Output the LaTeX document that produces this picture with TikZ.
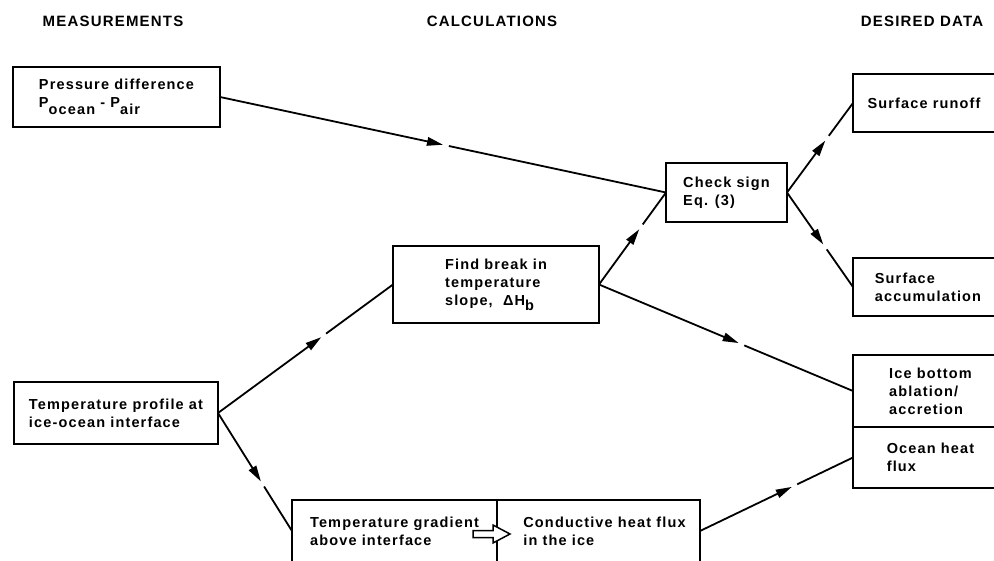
\documentclass[tikz,border=0pt]{standalone}
\usepackage{fontspec}
\setmainfont{Liberation Sans}
\newfontfamily\boxfont[LetterSpace=8]{Liberation Sans}
\newfontfamily\headfont[LetterSpace=8]{Liberation Sans}
\usetikzlibrary{arrows.meta,calc,positioning}

\tikzset{every picture/.style={line width=1.8pt}}
\tikzset{
  box/.style={draw, line width=2.2pt, rectangle, anchor=north west, align=left,
    inner sep=0pt, outer sep=0pt, font=\boxfont\bfseries\fontsize{14.5}{18}\selectfont},
  heading/.style={font=\headfont\bfseries\fontsize{15}{16}\selectfont, inner sep=0pt, anchor=base},
  flowline/.style={line width=1.8pt},
  midtip/.style={-{Triangle[length=16pt,width=8.5pt]}},
  openarrow/.style={draw, fill=white, line width=1.5pt, line join=miter},
}
% arrow part way along a line, then a small gap
\newcommand{\flow}[3][0.58]{%
  \path ($(#2.east)!#1!(#3.west)$) coordinate (ftip);
  \draw[flowline,midtip] (#2.east) -- (ftip);
  \draw[flowline] ($(ftip)!6pt!(#3.west)$) -- (#3.west);}

\begin{document}
\begin{tikzpicture}[x=1pt,y=1pt,yscale=-1,xscale=1]
\useasboundingbox (0,0) rectangle (994,561);

% Text Node
\node[heading] (hmeas) at (113,27) {MEASUREMENTS};
% Text Node
\node[heading] (hcalc) at (492,27) {CALCULATIONS};
% Text Node
\node[heading] (hdata) at (922,27) {DESIRED DATA};

%Shape: Rectangle
\node[box, minimum width=207, minimum height=60] (press) at (13,67)
  {Pressure difference\\P\raisebox{-7pt}{ocean}~-~P\raisebox{-7pt}{air}};
%Shape: Rectangle
\node[box, minimum width=204, minimum height=62] (profile) at (14,382)
  {Temperature profile at\\ice-ocean interface};
%Shape: Rectangle
\node[box, minimum width=206, minimum height=77] (findbreak) at (393,246)
  {Find break in\\temperature\\slope,~~ΔH\raisebox{-5pt}{b}};
%Shape: Rectangle
\node[box, minimum width=121, minimum height=59] (check) at (666,163)
  {Check sign\\Eq. (3)};
%Shape: Rectangle
\node[box, minimum width=205, minimum height=62] (grad) at (292,500)
  {Temperature gradient\\above interface};
\node[box, minimum width=203, minimum height=62, right=0pt of grad] (cond)
  {\hspace{12pt}Conductive heat flux\\\hspace{12pt}in the ice};
%Shape: Rectangle
\node[box, minimum width=142, minimum height=58] (runoff) at (853,74)
  {Surface runoff};
\node[box, minimum width=150, minimum height=58] (accum) at (853,258)
  {Surface\\accumulation};
\node[box, minimum width=155, minimum height=72] (icebot) at (853,355)
  {Ice bottom\\ablation/\\accretion};
\node[box, minimum width=155, minimum height=61, below=0pt of icebot] (ocean)
  {Ocean heat\\flux};

%Straight Lines
\flow[0.5]{press}{check}
\flow[0.59]{profile}{findbreak}
\flow[0.58]{profile}{grad}
\flow[0.6]{findbreak}{check}
\flow[0.55]{findbreak}{icebot}
\flow[0.58]{check}{runoff}
\flow[0.55]{check}{accum}
\flow[0.6]{cond}{ocean}

%Shape: Open arrow
\begin{scope}[shift={(grad.east)}]
\draw[openarrow] (-24,-0.5) -- (-4,-0.5) -- (-4,-6) -- (13,3) -- (-4,12) -- (-4,6.5) -- (-24,6.5) -- cycle;
\end{scope}

\end{tikzpicture}
\end{document}
